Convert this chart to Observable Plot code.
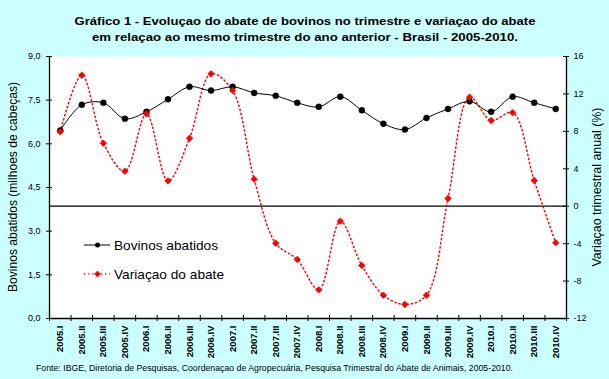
<!DOCTYPE html>
<html>
<head>
<meta charset="utf-8">
<script src="https://cdn.jsdelivr.net/npm/d3@7"></script>
<script src="https://cdn.jsdelivr.net/npm/@observablehq/plot@0.6"></script>
<style>
  html, body { margin: 0; padding: 0; background: #CCFFFF; }
  svg text { font-family: "Liberation Sans", Arial, sans-serif; }
</style>
</head>
<body>
<div id="chart"></div>
<script>
const quarters = ["2005.I","2005.II","2005.III","2005.IV","2006.I","2006.II","2006.III","2006.IV",
  "2007.I","2007.II","2007.III","2007.IV","2008.I","2008.II","2008.III","2008.IV",
  "2009.I","2009.II","2009.III","2009.IV","2010.I","2010.II","2010.III","2010.IV"];
const bovinos = [6.46,7.34,7.41,6.86,7.10,7.53,7.96,7.83,7.96,7.75,7.65,7.41,
  7.27,7.62,7.15,6.69,6.49,6.89,7.20,7.46,7.10,7.62,7.41,7.20];
const variacao = [7.95,14.0,6.73,3.74,9.87,2.71,7.27,14.15,12.36,2.89,-3.95,-5.7,
  -8.94,-1.6,-6.34,-9.51,-10.5,-9.51,0.82,11.65,9.16,10.0,2.75,-3.91];
const leftTicks = [0, 1.5, 3, 4.5, 6, 7.5, 9];
const rightTicks = [-12, -8, -4, 0, 4, 8, 12, 16];

const toLeft = v => (v + 12) * 9 / 28;
const data = quarters.map((q, i) => ({i, q, bov: bovinos[i], vr: variacao[i]}));
const bounds = d3.range(quarters.length + 1).map(k => k - 0.5);
const xmin = -0.5, xmax = quarters.length - 0.5;

const chart = Plot.plot({
  width: 609, height: 379,
  marginLeft: 49, marginRight: 43, marginTop: 56, marginBottom: 61,
  style: {background: "#CCFFFF", fontFamily: "'Liberation Sans', Arial, sans-serif", overflow: "visible"},
  x: {type: "linear", domain: [xmin, xmax], axis: null},
  y: {domain: [0, 9], axis: null},
  marks: [
    Plot.frame({fill: "white", stroke: null}),
    Plot.ruleY([toLeft(0)], {stroke: "black", strokeWidth: 1.3}),
    Plot.ruleX([xmin], {y1: 0, y2: 9, stroke: "black", strokeWidth: 1.3}),
    Plot.ruleX([xmax], {y1: 0, y2: 9, stroke: "black", strokeWidth: 1.3}),
    Plot.ruleY([0], {stroke: "black", strokeWidth: 1.3}),
    Plot.ruleX(bounds, {y1: 0, y2: 0, insetTop: -3, insetBottom: -3, stroke: "black"}),
    Plot.ruleY(leftTicks, {x1: xmin, x2: xmin, insetLeft: -3, insetRight: -3, stroke: "black"}),
    Plot.ruleY(rightTicks.map(toLeft), {x1: xmax, x2: xmax, insetLeft: -3, insetRight: -3, stroke: "black"}),
    Plot.text(leftTicks, {x: xmin, y: d => d, text: d => d.toFixed(1).replace(".", ","), textAnchor: "end", dx: -9, fontSize: 9}),
    Plot.text(rightTicks, {x: xmax, y: d => toLeft(d), text: d => String(d), textAnchor: "start", dx: 7, fontSize: 9}),
    Plot.text(data, {x: "i", y: 0, text: "q", rotate: -90, textAnchor: "end", frameAnchor: "bottom", fontSize: 9.5, fontWeight: 600, lineAnchor: "middle"}),
    Plot.line(data, {x: "i", y: d => toLeft(d.vr), curve: "catmull-rom", stroke: "red", strokeWidth: 1.5, strokeDasharray: "1.2,3"}),
    Plot.line(data, {x: "i", y: "bov", curve: "catmull-rom", stroke: "black", strokeWidth: 1}),
    Plot.dot(data, {x: "i", y: "bov", r: 3, fill: "black", stroke: "black", strokeWidth: 0.5}),
    Plot.dot(data, {x: "i", y: d => toLeft(d.vr), symbol: "diamond2", r: 2.9, fill: "red", stroke: "red", strokeWidth: 0.8})
  ]
});
document.getElementById("chart").append(chart);

const svg = d3.select(chart);

// x labels: shift to start 7px below the axis
svg.selectAll("g[aria-label='text']").each(function () {
  const g = d3.select(this);
  const t = g.selectAll("text");
  if (t.size() === quarters.length) g.attr("transform", (g.attr("transform") || "") + " translate(0,7)");
});

function addText(x, y, str, opts = {}) {
  const t = svg.append("text").attr("x", x).attr("y", y).text(str)
    .attr("fill", "black")
    .attr("font-size", opts.size || 12)
    .attr("text-anchor", opts.anchor || "start");
  if (opts.weight) t.attr("font-weight", opts.weight);
  if (opts.length) t.attr("textLength", opts.length).attr("lengthAdjust", "spacingAndGlyphs");
  if (opts.rotate) t.attr("transform", `rotate(${opts.rotate},${x},${y})`);
  return t;
}

addText(305, 25, "Gráfico 1 - Evoluçao do abate de bovinos no trimestre e variaçao do abate", {size: 11.5, weight: "bold", anchor: "middle", length: 461});
addText(305, 41, "em relaçao ao mesmo trimestre do ano anterior - Brasil - 2005-2010.", {size: 11.5, weight: "bold", anchor: "middle", length: 426});
addText(17, 187, "Bovinos abatidos (milhoes de cabeças)", {size: 12, anchor: "middle", rotate: -90, length: 210});
addText(601, 187, "Variaçao trimestral anual (%)", {size: 12, anchor: "middle", rotate: -90, length: 159});
addText(36, 371, "Fonte: IBGE, Diretoria de Pesquisas, Coordenaçao de Agropecuária, Pesquisa Trimestral do Abate de Animais, 2005-2010.", {size: 8.5, length: 477});

// legend
svg.append("line").attr("x1", 84).attr("x2", 110).attr("y1", 245).attr("y2", 245).attr("stroke", "black");
svg.append("circle").attr("cx", 97.5).attr("cy", 245).attr("r", 2.5).attr("fill", "black");
addText(114, 249.5, "Bovinos abatidos", {size: 13, length: 104});
svg.append("line").attr("x1", 84).attr("x2", 110).attr("y1", 274).attr("y2", 274).attr("stroke", "red").attr("stroke-width", 1.5).attr("stroke-dasharray", "1.2,3");
svg.append("path").attr("d", d3.symbol(d3.symbolDiamond2, 22)()).attr("transform", "translate(97.5,274)").attr("fill", "red").attr("stroke", "red").attr("stroke-width", 0.8);
addText(114, 278.5, "Variaçao do abate", {size: 13, length: 110});
</script>
</body>
</html>
